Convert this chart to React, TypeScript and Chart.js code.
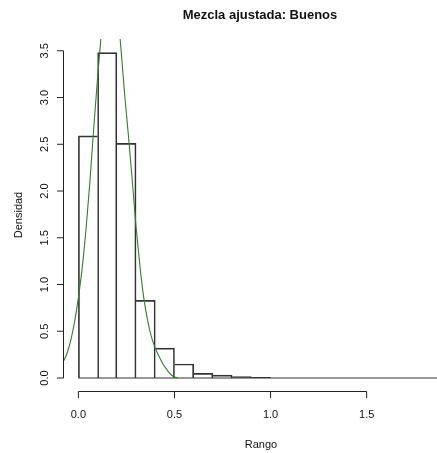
import React, { useEffect, useRef } from "react";
import { Chart, registerables } from "chart.js";

Chart.register(...registerables);

// ---- data ----
const binStarts = [0.0, 0.1, 0.2, 0.3, 0.4, 0.5, 0.6, 0.7, 0.8, 0.9];
const binWidth = 0.1;
const densities = [2.59, 3.48, 2.51, 0.83, 0.32, 0.15, 0.05, 0.03, 0.015, 0.008];

const curveX = [
  -0.08, -0.06, -0.04, -0.02, 0.0, 0.02, 0.04, 0.06, 0.08, 0.1, 0.12, 0.14, 0.16,
  0.18, 0.2, 0.22, 0.24, 0.26, 0.28, 0.3, 0.32, 0.34, 0.36, 0.38, 0.4, 0.42, 0.44,
  0.46, 0.48, 0.5, 0.52,
];
const curveY = [
  0.17, 0.26, 0.4, 0.6, 0.86, 1.18, 1.6, 2.1, 2.68, 3.22, 3.7, 4.08, 4.28,
  4.22, 3.98, 3.56, 3.05, 2.6, 2.12, 1.62, 1.2, 0.86, 0.62, 0.44, 0.32, 0.23, 0.15,
  0.09, 0.04, 0.01, 0.0,
];

const yTickValues = [0, 0.5, 1, 1.5, 2, 2.5, 3, 3.5];
const yTickLabels = ["0.0", "0.5", "1.0", "1.5", "2.0", "2.5", "3.0", "3.5"];
const xTickValues = [0, 0.5, 1, 1.5];
const xTickLabels = ["0.0", "0.5", "1.0", "1.5"];

const titleText = "Mezcla ajustada: Buenos";
const xLabelText = "Rango";
const yLabelText = "Densidad";

const X_MIN = -0.0801;
const X_MAX = 1.866;
const Y_MIN = -0.139;
const Y_MAX = 3.626;
const LABEL_CENTER_X = 0.95;

const FONT = "'Liberation Sans', Arial, Helvetica, sans-serif";

export default function App() {
  const ref = useRef<HTMLCanvasElement | null>(null);

  useEffect(() => {
    const canvas = ref.current;
    if (!canvas) return;

    const axesPlugin = {
      id: "rAxes",
      afterDraw(chart: any) {
        const { ctx, chartArea, scales } = chart;
        const xs = scales.x;
        const ys = scales.y;
        ctx.save();
        ctx.strokeStyle = "#222";
        ctx.fillStyle = "#111";
        ctx.lineWidth = 1;

        // y axis
        const ax = Math.round(chartArea.left) + 0.5;
        const yTop = ys.getPixelForValue(yTickValues[yTickValues.length - 1]);
        const yBot = ys.getPixelForValue(yTickValues[0]);
        ctx.beginPath();
        ctx.moveTo(ax, yBot);
        ctx.lineTo(ax, yTop);
        yTickValues.forEach((v) => {
          const p = ys.getPixelForValue(v);
          ctx.moveTo(ax, p);
          ctx.lineTo(ax - 6.5, p);
        });
        ctx.stroke();

        ctx.font = `11px ${FONT}`;
        ctx.textAlign = "center";
        ctx.textBaseline = "alphabetic";
        yTickValues.forEach((v, i) => {
          const p = ys.getPixelForValue(v);
          ctx.save();
          ctx.translate(48, p);
          ctx.rotate(-Math.PI / 2);
          ctx.fillText(yTickLabels[i], 0, 0);
          ctx.restore();
        });

        // x axis
        const ay = Math.round(chartArea.bottom) + 0.5;
        const xL = xs.getPixelForValue(xTickValues[0]);
        const xR = xs.getPixelForValue(xTickValues[xTickValues.length - 1]);
        ctx.beginPath();
        ctx.moveTo(xL, ay);
        ctx.lineTo(xR, ay);
        xTickValues.forEach((v) => {
          const p = xs.getPixelForValue(v);
          ctx.moveTo(p, ay);
          ctx.lineTo(p, ay + 6.5);
        });
        ctx.stroke();
        xTickValues.forEach((v, i) => {
          ctx.fillText(xTickLabels[i], xs.getPixelForValue(v), 417.5);
        });

        // axis titles
        const cx = xs.getPixelForValue(LABEL_CENTER_X);
        ctx.fillText(xLabelText, cx, 448);
        ctx.save();
        ctx.translate(21.5, (chartArea.top + chartArea.bottom) / 2);
        ctx.rotate(-Math.PI / 2);
        ctx.fillText(yLabelText, 0, 0);
        ctx.restore();

        // main title
        ctx.font = `bold 13px ${FONT}`;
        ctx.fillText(titleText, cx - 1, 19);

        ctx.restore();
      },
    };

    const chart = new Chart(canvas, {
      type: "bar",
      data: {
        datasets: [
          {
            type: "line",
            label: "mezcla",
            data: curveX.map((x, i) => ({ x, y: curveY[i] })),
            borderColor: "rgb(45,130,45)",
            borderWidth: 1.1,
            pointRadius: 0,
            fill: false,
            cubicInterpolationMode: "monotone",
            order: 0,
          } as any,
          {
            type: "line",
            label: "base",
            data: [
              { x: 0, y: 0 },
              { x: X_MAX, y: 0 },
            ],
            borderColor: "#333",
            borderWidth: 1,
            pointRadius: 0,
            fill: false,
            order: 1,
          } as any,
          {
            type: "bar",
            label: "hist",
            data: binStarts.map((s, i) => ({ x: s + binWidth / 2, y: densities[i] })),
            backgroundColor: "rgba(0,0,0,0)",
            borderColor: "rgba(0,0,0,0.8)",
            borderSkipped: false,
            borderWidth: (c: any) => {
              const i = c.dataIndex;
              const h = densities[i];
              const prev = i > 0 ? densities[i - 1] : 0;
              const next = i < densities.length - 1 ? densities[i + 1] : 0;
              return { top: 1, bottom: 0, left: h >= prev ? 1 : 0, right: h > next ? 1 : 0 };
            },
            barPercentage: 1,
            categoryPercentage: 1,
            order: 2,
          } as any,
        ],
      },
      options: {
        animation: false,
        responsive: true,
        maintainAspectRatio: false,
        events: [],
        layout: { padding: { left: 63, right: 0, top: 39, bottom: 62 } },
        plugins: {
          legend: { display: false },
          tooltip: { enabled: false },
          title: { display: false },
        },
        scales: {
          x: {
            type: "linear",
            min: X_MIN,
            max: X_MAX,
            offset: false,
            display: false,
            ticks: { stepSize: 0.1, includeBounds: false },
            grid: { display: false },
          },
          y: {
            type: "linear",
            min: Y_MIN,
            max: Y_MAX,
            display: false,
            grid: { display: false },
          },
        },
      } as any,
      plugins: [axesPlugin],
    });

    return () => chart.destroy();
  }, []);

  return (
    <div style={{ position: "absolute", left: 0, top: 0, width: 437, height: 453, background: "#fff" }}>
      <canvas ref={ref} />
    </div>
  );
}
